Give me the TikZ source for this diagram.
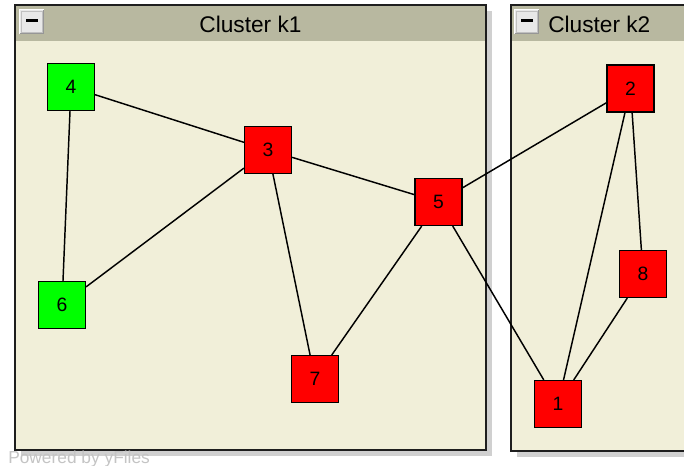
\documentclass[tikz,border=0pt]{standalone}
\usepackage{fontspec}
\setmainfont{Liberation Sans}
\definecolor{bodycream}{RGB}{241,239,217}
\definecolor{headband}{RGB}{184,184,160}
\definecolor{shadowgray}{RGB}{208,208,208}
\definecolor{footgray}{RGB}{196,196,196}
\definecolor{btnface}{RGB}{232,232,232}
\definecolor{btnedge}{RGB}{150,150,150}
\definecolor{frameink}{RGB}{30,30,30}
\definecolor{nodered}{RGB}{255,0,0}
\definecolor{nodegreen}{RGB}{0,255,0}
\begin{document}
\begin{tikzpicture}[x=0.75pt,y=-0.75pt,
  vtx/.style={draw=black, line width=1.1pt, minimum size=35pt, inner sep=0pt,
              font=\fontsize{14.5}{16}\selectfont},
  redv/.style={vtx, fill=nodered},
  greenv/.style={vtx, fill=nodegreen},
  link/.style={line width=1.1pt, draw=black},
  frame/.style={draw=frameink, line width=1.4pt},
  heading/.style={font=\fontsize{17}{20}\selectfont, inner sep=0pt},
  minusbtn/.pic={
    \fill[btnface] (0,0) rectangle (25,25);
    \draw[white, line width=1pt] (0.5,24.5) -- (0.5,0.5) -- (24.5,0.5);
    \draw[btnedge, line width=1pt] (0.5,24.5) -- (24.5,24.5) -- (24.5,0.5);
    \draw[btnedge!60, line width=0.6pt] (2,23) rectangle (23,2);
    \fill[black] (7,10) rectangle (19,13);
  }]
\useasboundingbox (0,0) rectangle (684,465);
\clip (0,0) rectangle (684,465);
\fill[white] (0,0) rectangle (684,465);

% group k1
\fill[shadowgray] (21,11) rectangle (492,456);
\fill[bodycream] (15,5) rectangle (486,450);
\fill[headband] (15,5) rectangle (486,41);
\draw[frame] (15,5) rectangle (486,450);
\pic at (19,9) {minusbtn};
\node[heading] (k1title) at (250.5,24) {Cluster k1};

% group k2
\fill[shadowgray] (517,11) rectangle (700,457);
\fill[bodycream] (511,5) rectangle (700,451);
\fill[headband] (511,5) rectangle (700,41);
\draw[frame] (511,5) rectangle (700,451);
\pic at (514,9) {minusbtn};
\node[heading, anchor=west] (k2title) at (548,24) {Cluster k2};

% vertices
\node[greenv] (n4) at (71,87) {4};
\node[greenv] (n6) at (62,305) {6};
\node[redv] (n3) at (268,150) {3};
\node[redv] (n5) at (438.5,202) {5};
\node[redv] (n7) at (315,379) {7};
\node[redv] (n2) at (630.5,88.5) {2};
\node[redv] (n8) at (643,274) {8};
\node[redv] (n1) at (558,404) {1};

% edges
\draw[link] (n4) -- (n3);
\draw[link] (n4) -- (n6);
\draw[link] (n3) -- (n6);
\draw[link] (n3) -- (n5);
\draw[link] (n3) -- (n7);
\draw[link] (n5) -- (n7);
\draw[link] (n5) -- (n2);
\draw[link] (n5) -- (n1);
\draw[link] (n2) -- (n1);
\draw[link] (n2) -- (n8);
\draw[link] (n8) -- (n1);

\node[anchor=base west, text=footgray, inner sep=0pt,
      font=\fontsize{13}{15}\selectfont] (credit) at (8,463.5) {Powered by yFiles};
\end{tikzpicture}
\end{document}
